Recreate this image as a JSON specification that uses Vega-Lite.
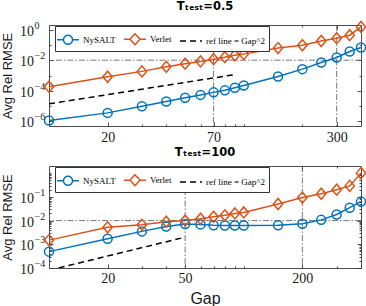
{
  "$schema": "https://vega.github.io/schema/vega-lite/v6.json",
  "padding": {"left": 1, "top": 0, "right": 0, "bottom": 0},
  "spacing": -1,
  "config": {
    "view": {"stroke": "#4d4d4d", "strokeWidth": 1},
    "axis": {"domain": false, "grid": false, "tickColor": "#262626", "tickWidth": 0.8, "labelColor": "#1a1a1a", "titleColor": "#1a1a1a", "labelFont": "Liberation Serif", "labelFontSize": 14, "titleFont": "Liberation Sans", "titleFontWeight": "normal", "labelOverlap": false},
    "title": {"font": "DejaVu Sans", "fontSize": 11.5, "fontWeight": "bold", "color": "#000000", "offset": 6}
  },
  "resolve": {"scale": {"color": "independent", "strokeDash": "independent", "shape": "independent"}, "legend": {"color": "independent", "shape": "independent", "strokeDash": "independent"}},
  "datasets": {
    "top": [
      {"s": "NySALT", "g": 10, "v": 1.15e-6}, {"s": "NySALT", "g": 20, "v": 3.6e-6}, {"s": "NySALT", "g": 30, "v": 9.8e-6}, {"s": "NySALT", "g": 40, "v": 2.0e-5},
      {"s": "NySALT", "g": 50, "v": 3.5e-5}, {"s": "NySALT", "g": 60, "v": 5.4e-5}, {"s": "NySALT", "g": 70, "v": 7.9e-5}, {"s": "NySALT", "g": 80, "v": 1.07e-4},
      {"s": "NySALT", "g": 90, "v": 1.6e-4}, {"s": "NySALT", "g": 100, "v": 2.2e-4}, {"s": "NySALT", "g": 150, "v": 8.7e-4}, {"s": "NySALT", "g": 200, "v": 2.6e-3},
      {"s": "NySALT", "g": 250, "v": 7.1e-3}, {"s": "NySALT", "g": 300, "v": 1.5e-2}, {"s": "NySALT", "g": 350, "v": 3.7e-2}, {"s": "NySALT", "g": 400, "v": 6.8e-2},
      {"s": "Verlet", "g": 10, "v": 1.86e-4}, {"s": "Verlet", "g": 20, "v": 8.3e-4}, {"s": "Verlet", "g": 30, "v": 1.86e-3}, {"s": "Verlet", "g": 40, "v": 3.7e-3},
      {"s": "Verlet", "g": 50, "v": 5.9e-3}, {"s": "Verlet", "g": 60, "v": 8.3e-3}, {"s": "Verlet", "g": 70, "v": 1.17e-2}, {"s": "Verlet", "g": 80, "v": 1.58e-2},
      {"s": "Verlet", "g": 90, "v": 2.1e-2}, {"s": "Verlet", "g": 100, "v": 2.5e-2}, {"s": "Verlet", "g": 150, "v": 6.2e-2}, {"s": "Verlet", "g": 200, "v": 9.5e-2},
      {"s": "Verlet", "g": 250, "v": 0.18}, {"s": "Verlet", "g": 300, "v": 0.275}, {"s": "Verlet", "g": 350, "v": 0.43}, {"s": "Verlet", "g": 400, "v": 1.5},
      {"s": "ref line = Gap^2", "g": 10, "v": 1.4e-5}, {"s": "ref line = Gap^2", "g": 90, "v": 1.15e-3}
    ],
    "bot": [
      {"s": "NySALT", "g": 10, "v": 4.9e-4}, {"s": "NySALT", "g": 20, "v": 1.7e-3}, {"s": "NySALT", "g": 30, "v": 3.5e-3}, {"s": "NySALT", "g": 40, "v": 5.6e-3},
      {"s": "NySALT", "g": 50, "v": 7.2e-3}, {"s": "NySALT", "g": 60, "v": 6.9e-3}, {"s": "NySALT", "g": 70, "v": 6.3e-3}, {"s": "NySALT", "g": 80, "v": 6.2e-3},
      {"s": "NySALT", "g": 90, "v": 6.2e-3}, {"s": "NySALT", "g": 100, "v": 6.2e-3}, {"s": "NySALT", "g": 150, "v": 6.3e-3}, {"s": "NySALT", "g": 200, "v": 7.4e-3},
      {"s": "NySALT", "g": 250, "v": 1.07e-2}, {"s": "NySALT", "g": 300, "v": 1.8e-2}, {"s": "NySALT", "g": 350, "v": 3.5e-2}, {"s": "NySALT", "g": 400, "v": 6.3e-2},
      {"s": "Verlet", "g": 10, "v": 1.5e-3}, {"s": "Verlet", "g": 20, "v": 5.2e-3}, {"s": "Verlet", "g": 30, "v": 6.6e-3}, {"s": "Verlet", "g": 40, "v": 8.9e-3},
      {"s": "Verlet", "g": 50, "v": 1.0e-2}, {"s": "Verlet", "g": 60, "v": 1.2e-2}, {"s": "Verlet", "g": 70, "v": 1.45e-2}, {"s": "Verlet", "g": 80, "v": 1.66e-2},
      {"s": "Verlet", "g": 90, "v": 2.0e-2}, {"s": "Verlet", "g": 100, "v": 2.2e-2}, {"s": "Verlet", "g": 150, "v": 5.0e-2}, {"s": "Verlet", "g": 200, "v": 9.3e-2},
      {"s": "Verlet", "g": 250, "v": 0.135}, {"s": "Verlet", "g": 300, "v": 0.2}, {"s": "Verlet", "g": 350, "v": 0.29}, {"s": "Verlet", "g": 400, "v": 1.0},
      {"s": "ref line = Gap^2", "g": 10, "v": 8e-5}, {"s": "ref line = Gap^2", "g": 50, "v": 2e-3}
    ]
  },
  "vconcat": [
    {
      "width": 312, "height": 101,
      "title": {"text": "Tₜₑₛₜ=0.5"},
      "layer": [
        {
          "data": {"values": [{"g": 70}, {"g": 300}]},
          "mark": {"type": "rule", "strokeDash": [6, 2, 1.5, 2], "color": "#555555", "strokeWidth": 0.8},
          "encoding": {"x": {"field": "g", "type": "quantitative", "scale": {"type": "log", "domain": [10, 400], "nice": false},
            "axis": {"orient": "top", "values": [20, 30, 40, 50, 60, 70, 80, 90, 100, 200, 300], "labels": false, "title": null,
              "tickSize": {"condition": {"test": "indexof([20,70,300], datum.value) >= 0", "value": -4}, "value": -2}}}}
        },
        {
          "data": {"values": [{"v": 0.01}]},
          "mark": {"type": "rule", "strokeDash": [6, 2, 1.5, 2], "color": "#555555", "strokeWidth": 0.8},
          "encoding": {"y": {"field": "v", "type": "quantitative", "scale": {"type": "log", "domain": [5e-7, 2], "nice": false},
            "axis": {"orient": "right", "values": [1e-6, 1e-5, 1e-4, 1e-3, 1e-2, 1e-1, 1], "labels": false, "title": null,
              "tickSize": {"condition": {"test": "datum.value == 1 || datum.value == 0.01 || datum.value == 0.0001 || datum.value == 0.000001", "value": -4}, "value": -2}}}}
        },
        {
          "data": {"name": "top"},
          "transform": [{"filter": "datum.g < 0"}],
          "mark": {"type": "point", "filled": false, "strokeWidth": 1.5, "size": 324, "opacity": 1},
          "encoding": {
            "x": {"field": "g", "type": "quantitative", "scale": {"type": "log", "domain": [10, 400], "nice": false}, "axis": null},
            "y": {"field": "v", "type": "quantitative", "scale": {"type": "log", "domain": [5e-7, 2], "nice": false}, "axis": null},
            "color": {"field": "s", "type": "nominal", "scale": {"domain": ["NySALT", "Verlet", "ref line = Gap^2"], "range": ["#0072BD", "#D95319", "#000000"]},
              "legend": {"orient": "none", "legendX": 6, "legendY": 1, "direction": "horizontal", "title": null,
                "fillColor": "white", "strokeColor": "#333333", "padding": 3, "cornerRadius": 0,
                "symbolSize": 324, "symbolStrokeWidth": 1.5, "labelFont": "Liberation Serif", "labelFontSize": 9, "labelColor": "#000000", "labelOffset": 5, "columnPadding": 5,
                "encode": {"labels": {"update": {"font": {"signal": "datum.value == 'ref line = Gap^2' ? 'Liberation Sans' : 'Liberation Serif'"}}}}}},
            "shape": {"field": "s", "type": "nominal", "scale": {"domain": ["NySALT", "Verlet", "ref line = Gap^2"], "range": ["M-1.22,0H-0.5M0.5,0H1.22M0.5,0A0.5,0.5,0,1,1,-0.5,0A0.5,0.5,0,1,1,0.5,0", "M-1.22,0H-0.56M0.56,0H1.22M-0.56,0L0,-0.61L0.56,0L0,0.61Z", "M-1.22,0H1.22"]}},
            "strokeDash": {"field": "s", "type": "nominal", "scale": {"domain": ["NySALT", "Verlet", "ref line = Gap^2"], "range": [[1, 0], [1, 0], [6, 4]]}}
          }
        },
        {
          "data": {"name": "top"},
          "transform": [{"filter": "datum.s != 'ref line = Gap^2'"}],
          "mark": {"type": "line", "strokeWidth": 1.5},
          "encoding": {
            "x": {"field": "g", "type": "quantitative", "scale": {"type": "log", "domain": [10, 400], "nice": false},
              "axis": {"orient": "bottom", "values": [20, 30, 40, 50, 60, 70, 80, 90, 100, 200, 300], "title": null,
                "labelExpr": "indexof([20,70,300], datum.value) >= 0 ? format(datum.value, 'd') : ''", "labelPadding": 8,
                "tickSize": {"condition": {"test": "indexof([20,70,300], datum.value) >= 0", "value": -4}, "value": -2}}},
            "y": {"field": "v", "type": "quantitative", "scale": {"type": "log", "domain": [5e-7, 2], "nice": false},
              "axis": {"orient": "left", "values": [1e-6, 1e-5, 1e-4, 1e-3, 1e-2, 1e-1, 1], "title": "Avg Rel RMSE", "titleFontSize": 13, "titlePadding": 5,
                "labelExpr": "(datum.value == 1 || datum.value == 0.01 || datum.value == 0.0001 || datum.value == 0.000001) ? '10' : ''", "labelPadding": 19.5, "labelBaseline": "middle", "labelOffset": 1.5,
                "tickSize": {"condition": {"test": "datum.value == 1 || datum.value == 0.01 || datum.value == 0.0001 || datum.value == 0.000001", "value": -4}, "value": -2}}},
            "color": {"field": "s", "type": "nominal", "legend": null}
          }
        },
        {
          "data": {"name": "top"},
          "transform": [{"filter": "datum.s == 'ref line = Gap^2'"}],
          "mark": {"type": "line", "strokeWidth": 1.5, "strokeDash": [6, 4], "clip": true},
          "encoding": {
            "x": {"field": "g", "type": "quantitative", "scale": {"type": "log", "domain": [10, 400], "nice": false}, "axis": null},
            "y": {"field": "v", "type": "quantitative", "scale": {"type": "log", "domain": [5e-7, 2], "nice": false}, "axis": null},
            "color": {"field": "s", "type": "nominal", "legend": null}
          }
        },
        {
          "data": {"name": "top"},
          "transform": [{"filter": "datum.s == 'NySALT'"}],
          "mark": {"type": "point", "shape": "circle", "filled": false, "strokeWidth": 1.5, "size": 81, "opacity": 1},
          "encoding": {
            "x": {"field": "g", "type": "quantitative", "scale": {"type": "log", "domain": [10, 400], "nice": false}, "axis": null},
            "y": {"field": "v", "type": "quantitative", "scale": {"type": "log", "domain": [5e-7, 2], "nice": false},
              "axis": {"orient": "left", "values": [1e-6, 1e-4, 1e-2, 1], "title": null, "ticks": false, "tickSize": 0,
                "labelExpr": "datum.value == 1 ? '0' : datum.value == 0.01 ? '−2' : datum.value == 0.0001 ? '−4' : '−6'",
                "labelFontSize": 10, "labelAlign": "left", "labelPadding": 15, "labelBaseline": "middle", "labelOffset": -4.5}},
            "color": {"field": "s", "type": "nominal", "legend": null}
          }
        },
        {
          "data": {"name": "top"},
          "transform": [{"filter": "datum.s == 'Verlet'"}],
          "mark": {"type": "point", "shape": "M-0.85,0L0,-1L0.85,0L0,1Z", "filled": false, "strokeWidth": 1.5, "size": 121, "opacity": 1},
          "encoding": {
            "x": {"field": "g", "type": "quantitative", "scale": {"type": "log", "domain": [10, 400], "nice": false}, "axis": null},
            "y": {"field": "v", "type": "quantitative", "scale": {"type": "log", "domain": [5e-7, 2], "nice": false}, "axis": null},
            "color": {"field": "s", "type": "nominal", "legend": null}
          }
        }
      ]
    },
    {
      "width": 312, "height": 102,
      "title": {"text": "Tₜₑₛₜ=100"},
      "layer": [
        {
          "data": {"values": [{"g": 50}, {"g": 200}]},
          "mark": {"type": "rule", "strokeDash": [6, 2, 1.5, 2], "color": "#555555", "strokeWidth": 0.8},
          "encoding": {"x": {"field": "g", "type": "quantitative", "scale": {"type": "log", "domain": [10, 400], "nice": false},
            "axis": {"orient": "top", "values": [20, 30, 40, 50, 60, 70, 80, 90, 100, 200, 300], "labels": false, "title": null,
              "tickSize": {"condition": {"test": "indexof([20,50,200], datum.value) >= 0", "value": -4}, "value": -2}}}}
        },
        {
          "data": {"values": [{"v": 0.01}]},
          "mark": {"type": "rule", "strokeDash": [6, 2, 1.5, 2], "color": "#555555", "strokeWidth": 0.8},
          "encoding": {"y": {"field": "v", "type": "quantitative", "scale": {"type": "log", "domain": [1e-4, 2], "nice": false},
            "axis": {"orient": "right", "values": [0.0001, 0.0002, 0.0003, 0.0004, 0.0005, 0.0006, 0.0007, 0.0008, 0.0009, 0.001, 0.002, 0.003, 0.004, 0.005, 0.006, 0.007, 0.008, 0.009, 0.01, 0.02, 0.03, 0.04, 0.05, 0.06, 0.07, 0.08, 0.09, 0.1, 0.2, 0.3, 0.4, 0.5, 0.6, 0.7, 0.8, 0.9, 1], "labels": false, "title": null,
              "tickSize": {"condition": {"test": "datum.value == 0.1 || datum.value == 0.01 || datum.value == 0.001 || datum.value == 0.0001", "value": -4}, "value": -2}}}}
        },
        {
          "data": {"name": "bot"},
          "transform": [{"filter": "datum.g < 0"}],
          "mark": {"type": "point", "filled": false, "strokeWidth": 1.5, "size": 324, "opacity": 1},
          "encoding": {
            "x": {"field": "g", "type": "quantitative", "scale": {"type": "log", "domain": [10, 400], "nice": false}, "axis": null},
            "y": {"field": "v", "type": "quantitative", "scale": {"type": "log", "domain": [1e-4, 2], "nice": false}, "axis": null},
            "color": {"field": "s", "type": "nominal", "scale": {"domain": ["NySALT", "Verlet", "ref line = Gap^2"], "range": ["#0072BD", "#D95319", "#000000"]},
              "legend": {"orient": "none", "legendX": 6, "legendY": 1, "direction": "horizontal", "title": null,
                "fillColor": "white", "strokeColor": "#333333", "padding": 3, "cornerRadius": 0,
                "symbolSize": 324, "symbolStrokeWidth": 1.5, "labelFont": "Liberation Serif", "labelFontSize": 9, "labelColor": "#000000", "labelOffset": 5, "columnPadding": 5,
                "encode": {"labels": {"update": {"font": {"signal": "datum.value == 'ref line = Gap^2' ? 'Liberation Sans' : 'Liberation Serif'"}}}}}},
            "shape": {"field": "s", "type": "nominal", "scale": {"domain": ["NySALT", "Verlet", "ref line = Gap^2"], "range": ["M-1.22,0H-0.5M0.5,0H1.22M0.5,0A0.5,0.5,0,1,1,-0.5,0A0.5,0.5,0,1,1,0.5,0", "M-1.22,0H-0.56M0.56,0H1.22M-0.56,0L0,-0.61L0.56,0L0,0.61Z", "M-1.22,0H1.22"]}},
            "strokeDash": {"field": "s", "type": "nominal", "scale": {"domain": ["NySALT", "Verlet", "ref line = Gap^2"], "range": [[1, 0], [1, 0], [6, 4]]}}
          }
        },
        {
          "data": {"name": "bot"},
          "transform": [{"filter": "datum.s != 'ref line = Gap^2'"}],
          "mark": {"type": "line", "strokeWidth": 1.5},
          "encoding": {
            "x": {"field": "g", "type": "quantitative", "scale": {"type": "log", "domain": [10, 400], "nice": false},
              "axis": {"orient": "bottom", "values": [20, 30, 40, 50, 60, 70, 80, 90, 100, 200, 300], "title": "Gap", "titleFontSize": 16, "titlePadding": 3,
                "labelExpr": "indexof([20,50,200], datum.value) >= 0 ? format(datum.value, 'd') : ''", "labelPadding": 7,
                "tickSize": {"condition": {"test": "indexof([20,50,200], datum.value) >= 0", "value": -4}, "value": -2}}},
            "y": {"field": "v", "type": "quantitative", "scale": {"type": "log", "domain": [1e-4, 2], "nice": false},
              "axis": {"orient": "left", "values": [0.0001, 0.0002, 0.0003, 0.0004, 0.0005, 0.0006, 0.0007, 0.0008, 0.0009, 0.001, 0.002, 0.003, 0.004, 0.005, 0.006, 0.007, 0.008, 0.009, 0.01, 0.02, 0.03, 0.04, 0.05, 0.06, 0.07, 0.08, 0.09, 0.1, 0.2, 0.3, 0.4, 0.5, 0.6, 0.7, 0.8, 0.9, 1], "title": "Avg Rel RMSE", "titleFontSize": 13, "titlePadding": 5,
                "labelExpr": "(datum.value == 0.1 || datum.value == 0.01 || datum.value == 0.001 || datum.value == 0.0001) ? '10' : ''", "labelPadding": 19.5, "labelBaseline": "middle", "labelOffset": 1.5,
                "tickSize": {"condition": {"test": "datum.value == 0.1 || datum.value == 0.01 || datum.value == 0.001 || datum.value == 0.0001", "value": -4}, "value": -2}}},
            "color": {"field": "s", "type": "nominal", "legend": null}
          }
        },
        {
          "data": {"name": "bot"},
          "transform": [{"filter": "datum.s == 'ref line = Gap^2'"}],
          "mark": {"type": "line", "strokeWidth": 1.5, "strokeDash": [6, 4], "clip": true},
          "encoding": {
            "x": {"field": "g", "type": "quantitative", "scale": {"type": "log", "domain": [10, 400], "nice": false}, "axis": null},
            "y": {"field": "v", "type": "quantitative", "scale": {"type": "log", "domain": [1e-4, 2], "nice": false}, "axis": null},
            "color": {"field": "s", "type": "nominal", "legend": null}
          }
        },
        {
          "data": {"name": "bot"},
          "transform": [{"filter": "datum.s == 'NySALT'"}],
          "mark": {"type": "point", "shape": "circle", "filled": false, "strokeWidth": 1.5, "size": 81, "opacity": 1},
          "encoding": {
            "x": {"field": "g", "type": "quantitative", "scale": {"type": "log", "domain": [10, 400], "nice": false}, "axis": null},
            "y": {"field": "v", "type": "quantitative", "scale": {"type": "log", "domain": [1e-4, 2], "nice": false},
              "axis": {"orient": "left", "values": [0.0001, 0.001, 0.01, 0.1], "title": null, "ticks": false, "tickSize": 0,
                "labelExpr": "datum.value == 0.1 ? '−1' : datum.value == 0.01 ? '−2' : datum.value == 0.001 ? '−3' : '−4'",
                "labelFontSize": 10, "labelAlign": "left", "labelPadding": 15, "labelBaseline": "middle", "labelOffset": -4.5}},
            "color": {"field": "s", "type": "nominal", "legend": null}
          }
        },
        {
          "data": {"name": "bot"},
          "transform": [{"filter": "datum.s == 'Verlet'"}],
          "mark": {"type": "point", "shape": "M-0.85,0L0,-1L0.85,0L0,1Z", "filled": false, "strokeWidth": 1.5, "size": 121, "opacity": 1},
          "encoding": {
            "x": {"field": "g", "type": "quantitative", "scale": {"type": "log", "domain": [10, 400], "nice": false}, "axis": null},
            "y": {"field": "v", "type": "quantitative", "scale": {"type": "log", "domain": [1e-4, 2], "nice": false}, "axis": null},
            "color": {"field": "s", "type": "nominal", "legend": null}
          }
        }
      ]
    }
  ]
}
